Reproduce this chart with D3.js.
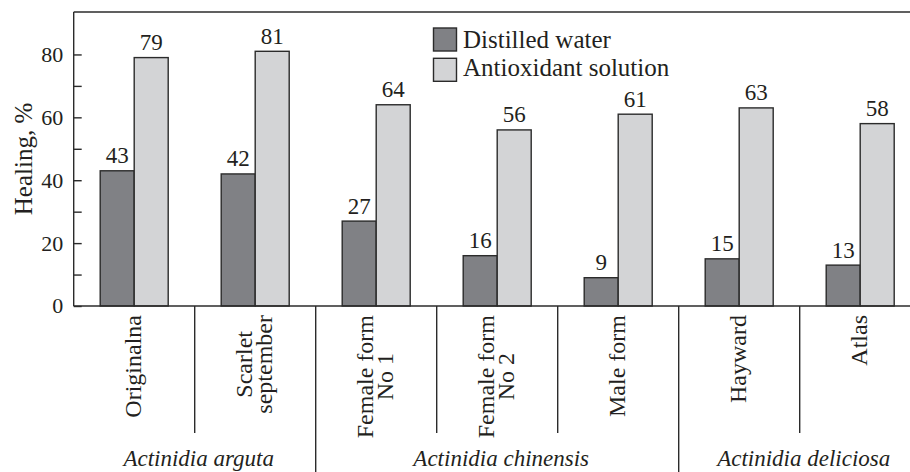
<!DOCTYPE html>
<html><head><meta charset="utf-8">
<script src="https://cdn.jsdelivr.net/npm/d3@7"></script>
<style>
html,body{margin:0;padding:0;background:#fff;}
svg{display:block;}
text{font-family:"Liberation Serif","Times New Roman",serif;fill:#231f20;}
</style></head><body>
<svg id="c" width="910" height="472"></svg>
<script>
const categories = [["Originalna"],["Scarlet","september"],["Female form","No 1"],["Female form","No 2"],["Male form"],["Hayward"],["Atlas"]];
const categoryKeys = ["Originalna","Scarlet september","Female form No 1","Female form No 2","Male form","Hayward","Atlas"];
const seriesNames = ["Distilled water","Antioxidant solution"];
const distilledWater = [43,42,27,16,9,15,13];
const antioxidantSolution = [79,81,64,56,61,63,58];
const species = [
  {name:"Actinidia arguta", from:0, to:2},
  {name:"Actinidia chinensis", from:2, to:5},
  {name:"Actinidia deliciosa", from:5, to:7}
];
const majorTicks = [0,20,40,60,80];
const minorTicks = [10,30,50,70];
const yTitle = "Healing, %";

(function(){
const colors = ["#808185","#d3d4d6"];
const ink = "#2b2b2b";
const svg = d3.select("#c");
const mLeft = 73.7, mTop = 12, mBottom = 306, bandW = 121;
const x0 = d3.scaleBand().domain(categoryKeys).range([mLeft, mLeft + bandW*categoryKeys.length]).padding(0);
const x1 = d3.scaleBand().domain(seriesNames).range([26.5, 26.5+68]).padding(0);
const y = d3.scaleLinear().domain([0, 93.5]).range([mBottom, mTop]);
const seriesData = [distilledWater, antioxidantSolution];

// bars
categoryKeys.forEach((k,i)=>{
  seriesNames.forEach((s,j)=>{
    const v = seriesData[j][i];
    svg.append("rect")
      .attr("x", x0(k)+x1(s)).attr("y", y(v))
      .attr("width", x1.bandwidth()).attr("height", y(0)-y(v))
      .attr("fill", colors[j]).attr("stroke", ink).attr("stroke-width",1.4);
    svg.append("text")
      .attr("x", x0(k)+x1(s)+x1.bandwidth()/2).attr("y", y(v)-7.5)
      .attr("text-anchor","middle").attr("font-size",23).text(v);
  });
});

// frame
svg.append("line").attr("x1",mLeft).attr("x2",910).attr("y1",mTop).attr("y2",mTop).attr("stroke",ink).attr("stroke-width",1.4);
svg.append("line").attr("x1",mLeft).attr("x2",mLeft).attr("y1",mTop).attr("y2",mBottom).attr("stroke",ink).attr("stroke-width",1.4);
svg.append("line").attr("x1",mLeft).attr("x2",910).attr("y1",mBottom).attr("y2",mBottom).attr("stroke",ink).attr("stroke-width",1.4);

// y axis
const ga = svg.append("g").attr("transform",`translate(${mLeft},0)`).call(d3.axisRight(y).tickValues(majorTicks).tickSize(8).tickFormat(""));
ga.select(".domain").remove();
ga.selectAll("line").attr("stroke",ink).attr("stroke-width",1.4);
const gm = svg.append("g").attr("transform",`translate(${mLeft},0)`).call(d3.axisRight(y).tickValues(minorTicks).tickSize(8).tickFormat(""));
gm.select(".domain").remove();
gm.selectAll("line").attr("stroke",ink).attr("stroke-width",1.4);
majorTicks.forEach(t=>{
  svg.append("text").attr("x",mLeft-10.5).attr("y",y(t)).attr("dy","0.34em")
    .attr("text-anchor","end").attr("font-size",22).text(t);
});
svg.append("text").attr("transform",`translate(32,${(mTop+mBottom)/2}) rotate(-90)`)
  .attr("text-anchor","middle").attr("font-size",25).text(yTitle);

// separators
for(let i=1;i<categoryKeys.length;i++){
  const xx = x0(categoryKeys[i]);
  const isGroup = species.some(s=>s.from===i);
  svg.append("line").attr("x1",xx).attr("x2",xx).attr("y1",mBottom).attr("y2",isGroup?472:433)
    .attr("stroke",ink).attr("stroke-width",1.4);
}

// category labels
categories.forEach((lines,i)=>{
  const cx = x0(categoryKeys[i]) + bandW/2;
  const lh = 20.5;
  const g = svg.append("g");
  const texts = lines.map((l,j)=>{
    const off = (j - (lines.length-1)/2)*lh;
    return g.append("text").attr("font-size",24).attr("text-anchor","middle").text(l)
      .attr("data-off",off);
  });
  const maxLen = d3.max(texts, t=>t.node().getComputedTextLength());
  const cy = 315 + maxLen/2;
  texts.forEach(t=>{
    const off = +t.attr("data-off");
    t.attr("transform",`translate(${cx+off+7},${cy}) rotate(-90)`);
  });
});

// species labels
species.forEach(s=>{
  const a = x0(categoryKeys[s.from]);
  const b = x0(categoryKeys[s.to-1]) + bandW;
  svg.append("text").attr("x",(a+b)/2+4).attr("y",466).attr("text-anchor","middle")
    .attr("font-size",23).attr("font-style","italic").text(s.name);
});

// legend
seriesNames.forEach((s,j)=>{
  svg.append("rect").attr("x",433.5).attr("y",28+j*30.3).attr("width",23).attr("height",23)
    .attr("fill",colors[j]).attr("stroke",ink).attr("stroke-width",1.4);
  svg.append("text").attr("x",463).attr("y",48.3+j*28).attr("font-size",25).text(s);
});
})();
</script>
</body></html>
